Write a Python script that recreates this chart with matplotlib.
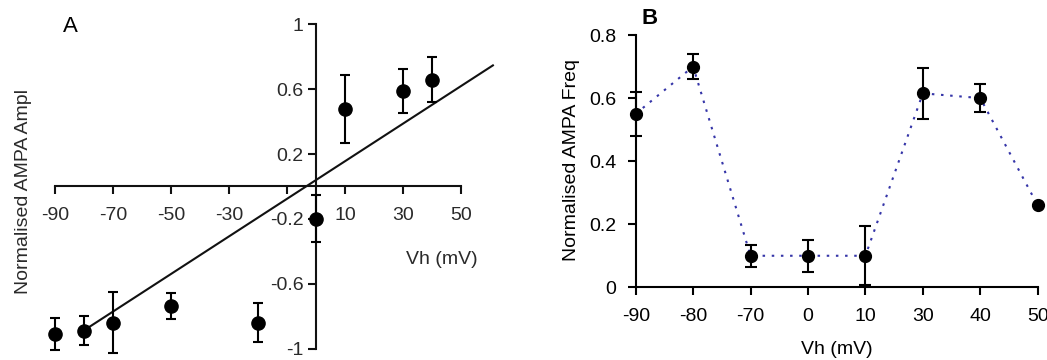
import matplotlib
matplotlib.use("Agg")
import matplotlib.pyplot as plt
import numpy as np

plt.rcParams['font.family'] = ['Liberation Sans', 'DejaVu Sans']

# Panel A data
a_vh = [-90, -80, -70, -50, -20, 0, 10, 30, 40]
a_amp = [-0.91, -0.89, -0.84, -0.74, -0.84, -0.20, 0.48, 0.59, 0.66]
a_err = [0.10, 0.09, 0.19, 0.08, 0.12, 0.145, 0.21, 0.135, 0.14]
a_fit_x = [-78, 61]
a_fit_slope = 0.0116
a_fit_icpt = 0.04
a_xticks = [-90, -70, -50, -30, -10, 10, 30, 50]
a_xticklabels = ['-90', '-70', '-50', '-30', '', '10', '30', '50']
a_yticks = [-1, -0.6, -0.2, 0.2, 0.6, 1]
a_yticklabels = ['-1', '-0.6', '-0.2', '0.2', '0.6', '1']

# Panel B data
b_cats = ['-90', '-80', '-70', '0', '10', '30', '40', '50']
b_freq = [0.55, 0.70, 0.10, 0.10, 0.10, 0.615, 0.60, 0.26]
b_err = [0.07, 0.04, 0.035, 0.05, 0.093, 0.08, 0.045, 0.0]
b_yticks = [0, 0.2, 0.4, 0.6, 0.8]
b_yticklabels = ['0', '0.2', '0.4', '0.6', '0.8']

W, H = 1047, 360
fig = plt.figure(figsize=(W / 100, H / 100), dpi=100)

txtA = '#2a2a2a'

# ---------- Panel A ----------
# pixel mapping: x_px = 316 + 2.9*x ; y_px = 186.5 - 162*y
xl = (-93, 62)
yl = (-1.06, 1.03)
left = (316 + 2.9 * xl[0]) / W
right = (316 + 2.9 * xl[1]) / W
top = 1 - (186.5 - 162 * yl[1]) / H
bottom = 1 - (186.5 - 162 * yl[0]) / H
axA = fig.add_axes([left, bottom, right - left, top - bottom])
axA.set_xlim(*xl)
axA.set_ylim(*yl)
for s in ['top', 'right']:
    axA.spines[s].set_visible(False)
axA.spines['left'].set_position(('data', 0))
axA.spines['bottom'].set_position(('data', 0))
axA.spines['left'].set_bounds(-1, 1)
axA.spines['bottom'].set_bounds(-90, 50)
for s in ['left', 'bottom']:
    axA.spines[s].set_linewidth(1.5)
    axA.spines[s].set_color('#111111')
axA.set_xticks(a_xticks)
axA.set_xticklabels(a_xticklabels)
axA.set_yticks(a_yticks)
axA.set_yticklabels(a_yticklabels)
axA.tick_params(axis='x', direction='out', length=6, width=1.5, pad=9,
                labelsize=14, labelcolor=txtA, color='#111111')
axA.tick_params(axis='y', direction='out', length=6, width=1.5, pad=3,
                labelsize=14, labelcolor=txtA, color='#111111')
fx = np.array(a_fit_x, dtype=float)
axA.plot(fx, a_fit_slope * fx + a_fit_icpt, color='#111111', lw=1.5, clip_on=False)
axA.errorbar(a_vh, a_amp, yerr=a_err, fmt='o', color='black', ms=9.5,
             elinewidth=1.5, capsize=3.5, capthick=1.5, clip_on=False, zorder=5)
fig.text(70 / W, 1 - 26 / H, 'A', fontsize=16, ha='center', va='center', color='black')
fig.text(442 / W, 1 - 259 / H, 'Vh (mV)', fontsize=14, ha='center', va='center', color=txtA)
fig.text(24 / W, 1 - 192 / H, 'Normalised AMPA Ampl', fontsize=14, rotation=90,
         ha='center', va='center', color=txtA)

# ---------- Panel B ----------
x0, x1 = 635.7, 1037.7
y0, y1 = 287.3, 35.0
axB = fig.add_axes([x0 / W, 1 - y0 / H, (x1 - x0) / W, (y0 - y1) / H])
xb = np.arange(len(b_cats))
axB.set_xlim(0, len(b_cats) - 1)
axB.set_ylim(0, 0.8)
for s in ['top', 'right']:
    axB.spines[s].set_visible(False)
for s in ['left', 'bottom']:
    axB.spines[s].set_linewidth(1.5)
    axB.spines[s].set_color('black')
axB.set_xticks(xb)
axB.set_xticklabels(b_cats)
axB.set_yticks(b_yticks)
axB.set_yticklabels(b_yticklabels)
axB.tick_params(axis='x', direction='out', length=6, width=1.5, pad=9, labelsize=14)
axB.tick_params(axis='y', direction='out', length=6, width=1.5, pad=8, labelsize=14)
axB.plot(xb, b_freq, color='#3535a8', lw=1.5, linestyle=(0, (1.2, 3.2)),
         clip_on=False, zorder=3)
axB.errorbar(xb, b_freq, yerr=b_err, fmt='o', color='black', ms=8.5,
             elinewidth=1.5, capsize=4.5, capthick=1.5, clip_on=False, zorder=5)
fig.text(650 / W, 1 - 19 / H, 'B', fontsize=16, fontweight='bold', ha='center', va='center')
fig.text(837 / W, 1 - 350 / H, 'Vh (mV)', fontsize=14, ha='center', va='center')
fig.text(572 / W, 1 - 160 / H, 'Normalised AMPA Freq', fontsize=14, rotation=90,
         ha='center', va='center')

fig.savefig('out.png', dpi=100)
